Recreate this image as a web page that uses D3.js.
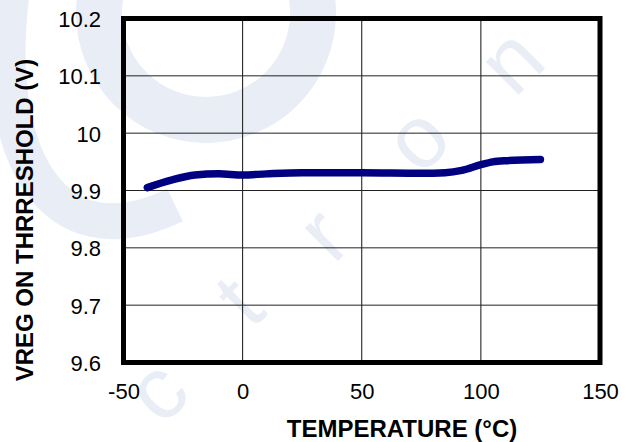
<!DOCTYPE html>
<html>
<head>
<meta charset="utf-8">
<script src="https://cdn.jsdelivr.net/npm/d3@7"></script>
<style>
  body { margin: 0; background: #fff; }
  svg { display: block; font-family: "Liberation Sans", Arial, sans-serif; }
</style>
</head>
<body>
<script>
// temperature (°C) and VREG ON threshold (V)
var temps = [-40, -30, -20, -10, 0, 10, 25, 50, 75, 85, 92, 100, 105, 110, 125];
var vreg = [9.905, 9.918, 9.927, 9.929, 9.927, 9.929, 9.931, 9.931, 9.930, 9.931, 9.935, 9.945, 9.950, 9.952, 9.954];
var xTicks = [-50, 0, 50, 100, 150];
var yTicks = [9.6, 9.7, 9.8, 9.9, 10, 10.1, 10.2];
var wmLetters = ['c', 't', 'r', 'o', 'n'];

var W = 632, H = 442;
var margin = { top: 18.5, right: 32, bottom: 79.5, left: 123.5 },
  width = W - margin.left - margin.right,
  height = H - margin.top - margin.bottom;

var svg = d3.select("body").append("svg")
  .attr("width", W)
  .attr("height", H);

// pale watermark behind the chart
var wm = svg.append("g").attr("fill", "none").attr("stroke", "#e8edf6");
wm.append("circle")
  .attr("cx", 206).attr("cy", 13).attr("r", 107)
  .attr("stroke-width", 46);
wm.append("path")
  .attr("d", "M 12,-10 C -10,150 50,265 175,205")
  .attr("stroke-width", 36);
var wmPos = [[156, 390], [238, 300], [322, 233], [416, 138], [510, 60]];
svg.append("g").selectAll("text")
  .data(wmLetters)
  .enter().append("text")
  .attr("transform", function (d, i) {
    return "translate(" + wmPos[i][0] + "," + wmPos[i][1] + ") rotate(-45)";
  })
  .attr("text-anchor", "middle")
  .attr("dy", "0.35em")
  .attr("fill", "#e8edf6")
  .style("font-size", "88px")
  .text(function (d) { return d; });

var g = svg.append("g")
  .attr("transform", "translate(" + margin.left + "," + margin.top + ")");

var x = d3.scaleLinear().domain([-50, 150]).range([0, width]);
var y = d3.scaleLinear().domain([9.6, 10.2]).range([height, 0]);

// grid
g.append("g")
  .selectAll("line")
  .data(xTicks.slice(1, -1))
  .enter().append("line")
  .attr("x1", function (d) { return x(d); })
  .attr("x2", function (d) { return x(d); })
  .attr("y1", 0)
  .attr("y2", height)
  .attr("stroke", "#111")
  .attr("stroke-width", 1);

g.append("g")
  .selectAll("line")
  .data(yTicks.slice(1, -1))
  .enter().append("line")
  .attr("x1", 0)
  .attr("x2", width)
  .attr("y1", function (d) { return y(d); })
  .attr("y2", function (d) { return y(d); })
  .attr("stroke", "#222")
  .attr("stroke-width", 1);

// axes (labels only, the frame is drawn separately)
var xAxis = d3.axisBottom(x).tickValues(xTicks).tickSize(0).tickPadding(0)
  .tickFormat(function (d) { return String(d); });
var yAxis = d3.axisLeft(y).tickValues(yTicks).tickSize(0).tickPadding(0)
  .tickFormat(function (d) { return String(d); });

var gx = g.append("g")
  .attr("transform", "translate(0," + height + ")")
  .call(xAxis);
gx.select(".domain").remove();
gx.selectAll("text")
  .attr("y", 36.5)
  .attr("dy", 0)
  .style("font-size", "22px")
  .attr("fill", "#000");

var gy = g.append("g").call(yAxis);
gy.select(".domain").remove();
gy.selectAll("text")
  .attr("x", -22.5)
  .attr("dy", "0.37em")
  .attr("text-anchor", "end")
  .style("font-size", "22px")
  .attr("fill", "#000");

// frame
g.append("rect")
  .attr("width", width)
  .attr("height", height)
  .attr("fill", "none")
  .attr("stroke", "#000")
  .attr("stroke-width", 5);

// curve
var line = d3.line()
  .x(function (d) { return x(d[0]); })
  .y(function (d) { return y(d[1]); })
  .curve(d3.curveMonotoneX);

g.append("path")
  .datum(temps.map(function (t, i) { return [t, vreg[i]]; }))
  .attr("d", line)
  .attr("fill", "none")
  .attr("stroke", "#000080")
  .attr("stroke-width", 7.5)
  .attr("stroke-linecap", "round")
  .attr("stroke-linejoin", "round");

// axis titles
svg.append("text")
  .attr("x", 402)
  .attr("y", 437)
  .attr("text-anchor", "middle")
  .style("font-size", "24px")
  .style("font-weight", "bold")
  .text("TEMPERATURE (°C)");

svg.append("text")
  .attr("transform", "translate(33,220) rotate(-90)")
  .attr("text-anchor", "middle")
  .style("font-size", "24px")
  .style("font-weight", "bold")
  .text("VREG ON THRRESHOLD (V)");
</script>
</body>
</html>
